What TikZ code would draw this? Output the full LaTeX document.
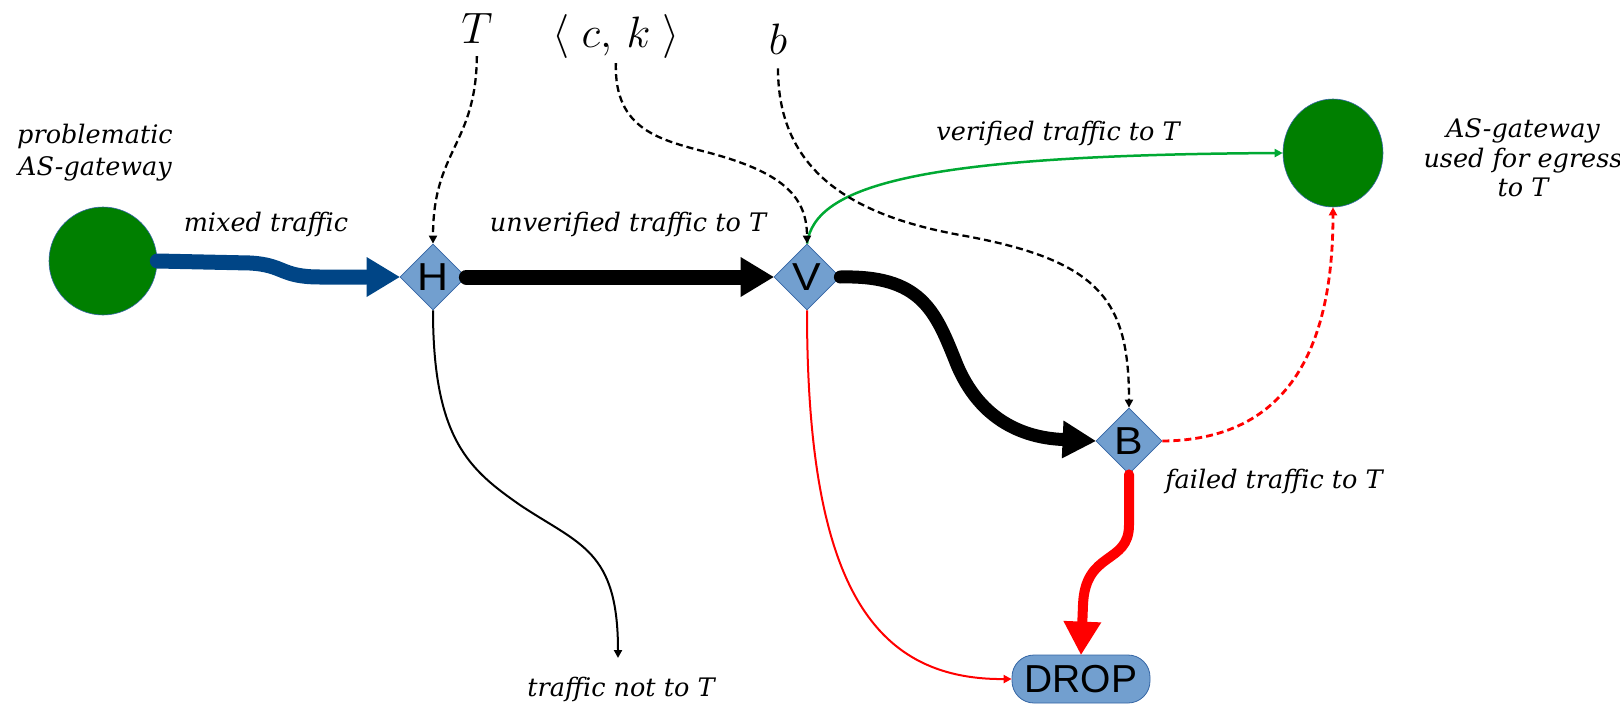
\documentclass[tikz,border=0pt]{standalone}
\usepackage{graphicx}
\usepackage{fontspec}
\setmainfont{DejaVu Serif}
\newfontfamily\lsans{Liberation Sans}
\usetikzlibrary{shapes.geometric,arrows.meta}
\definecolor{nodefill}{HTML}{729FCF}
\definecolor{nodeline}{HTML}{3465A4}
\definecolor{gwgreen}{HTML}{007F00}
\definecolor{flowblue}{HTML}{004586}
\definecolor{okgreen}{HTML}{00A933}
\newcommand{\bigvar}[1]{\scalebox{2.12}{\fontsize{20.74}{22}\selectfont$#1$}}
\newcommand{\wide}[1]{\scalebox{1.1}[1]{#1}}
\begin{document}
\begin{tikzpicture}[x=1pt,y=-1pt,
  lbl/.style={font=\fontsize{25.5}{30}\selectfont\itshape, align=center, inner sep=0},
  var/.style={inner sep=0},
  dia/.style={diamond, aspect=1, minimum size=66pt, inner sep=0, fill=nodefill, draw=nodeline, line width=0.8pt, font=\lsans\fontsize{39}{39}\selectfont},
  gw/.style={ellipse, fill=gwgreen, draw=nodeline, line width=0.6pt, inner sep=0},
  bigtip/.style={-{Triangle[length=33pt,width=40pt,line width=0pt]}},
  smalltip/.style={-{Triangle[length=8pt,width=8pt]}},
  hint/.style={dash pattern=on 7pt off 4pt, line width=2.3pt, smalltip},
  thin/.style={line width=2pt, smalltip}
]
\useasboundingbox (0,0) rectangle (1620,707);

% nodes
\node[gw, minimum width=108pt, minimum height=108pt] (pg) at (103,261) {};
\node[gw, minimum width=100pt, minimum height=108pt] (eg) at (1333,153) {};
\node[dia] (H) at (433,277) {\wide{H}};
\node[dia] (V) at (807,277) {\wide{V}};
\node[dia] (B) at (1129,441) {\wide{B}};
\node[rectangle, rounded corners=22pt, minimum width=138pt, minimum height=48pt, inner sep=0,
      fill=nodefill, draw=nodeline, line width=0.8pt, font=\lsans\fontsize{39}{39}\selectfont] (DROP) at (1081,679) {DROP};
\coordinate (nt) at (618,658);

% variables
\node[var] (vT) at (477,28) {\bigvar{T}};
\node[var] (vck) at (616,37) {\bigvar{\langle\;c,\,k\;\rangle}};
\node[var] (vb) at (778,39) {\bigvar{b}};

% labels
\node[lbl, font=\fontsize{25.5}{32}\selectfont\itshape] (lpg) at (95,153) {problematic\\AS-gateway};
\node[lbl] (lmix) at (266,224) {mixed traffic};
\node[lbl] (lunv) at (628,224) {unverified traffic to T};
\node[lbl] (lver) at (1058,133) {verified traffic to T};
\node[lbl, font=\fontsize{25.5}{29.5}\selectfont\itshape] (leg) at (1523,158) {AS-gateway\\used for egress\\to T};
\node[lbl] (lfail) at (1274,481) {failed traffic to T};
\node[lbl] (lnot) at (621,689) {traffic not to T};

% thick flows
\draw[flowblue, line width=15pt, line cap=round, bigtip]
  (pg.east) -- (250,263) .. controls (285,265) and (280,277) .. (320,277) -- (H.west);
\draw[line width=15pt, line cap=round, bigtip] (H.east) -- (V.west);
\draw[line width=13pt, line cap=round, -{Triangle[length=33pt,width=38pt,line width=0pt]}]
  (V.east) .. controls (920,275) and (935,310) .. (955,360) .. controls (980,425) and (1030,438) .. (B.west);
\draw[red, line width=10pt, line cap=round, -{Triangle[length=33pt,width=38pt,line width=0pt]}]
  (B.south) -- (1129,525) .. controls (1129,565) and (1085,550) .. (1083,605) -- (DROP.north);

% thin flows
\draw[red, thin] (V.south) .. controls (807,580) and (870,680) .. (DROP.west);
\draw[thin] (H.south) .. controls (433,440) and (470,470) .. (520,505) .. controls (580,545) and (618,550) .. (nt);
\draw[okgreen, line width=2.5pt, smalltip] (V.north) .. controls (815,185) and (920,155) .. (eg.west);
\draw[red, hint, line width=2.8pt] (B.east) .. controls (1300,440) and (1333,330) .. (eg.south);

% parameter hints
\draw[hint, shorten <=13pt] (vT.south) .. controls (476,145) and (433,150) .. (H.north);
\draw[hint, shorten <=4pt] (vck.south) .. controls (614,130) and (660,140) .. (710,153) .. controls (780,172) and (807,195) .. (V.north);
\draw[hint, shorten <=14pt] (vb.south) .. controls (778,170) and (850,215) .. (960,235) .. controls (1100,260) and (1129,300) .. (B.north);
\end{tikzpicture}
\end{document}
